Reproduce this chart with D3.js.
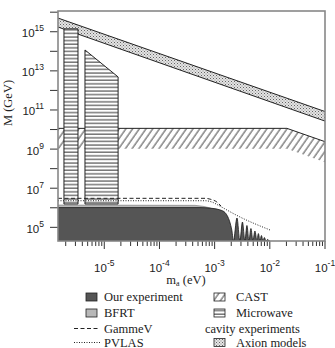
<!DOCTYPE html>
<html>
<head>
<meta charset="utf-8">
<script src="https://cdn.jsdelivr.net/npm/d3@7"></script>
<style>
  body { margin: 0; background: #fff; }
  svg { display: block; }
</style>
</head>
<body>
<svg id="chart" width="335" height="348"></svg>
<script>
// values, pairs of [m_a (eV), M (GeV)]
const ourExperiment = [
  [1.45e-6, 1.02e6], [5.42e-4, 1.02e6], [8.93e-4, 9.35e5], [1.24e-3, 7.85e5],
  [1.54e-3, 5.71e5], [1.74e-3, 3.37e5], [1.93e-3, 1.47e5], [2.06e-3, 6.5e4],
  [2.19e-3, 2.0e4], [2.54e-3, 2.99e5], [2.87e-3, 2.0e4], [3.19e-3, 1.87e5],
  [3.54e-3, 2.0e4], [3.85e-3, 1.24e5], [4.18e-3, 2.0e4], [4.55e-3, 8.7e4],
  [4.94e-3, 2.0e4], [5.37e-3, 6.5e4], [5.84e-3, 2.0e4], [6.21e-3, 4.8e4],
  [6.62e-3, 2.0e4], [7.05e-3, 3.8e4], [7.50e-3, 2.0e4], [7.98e-3, 3.0e4],
  [8.50e-3, 2.0e4], [9.05e-3, 2.38e4], [9.85e-3, 2.0e4]
];
const bfrt = [
  [1.45e-6, 1.38e6], [4.4e-4, 1.33e6], [6.14e-4, 1.19e6], [8.2e-4, 9.9e5], [9.7e-4, 8.1e5]
];
const gammeV = [
  [1.45e-6, 3.04e6], [6.73e-4, 3.04e6], [8.57e-4, 2.69e6], [1.10e-3, 1.96e6], [1.30e-3, 1.23e6]
];
const pvlas = [
  [1.45e-6, 2.29e6], [6.73e-4, 2.29e6], [8.93e-4, 1.96e6], [1.15e-3, 1.38e6],
  [1.61e-3, 8.13e5], [2.45e-3, 4.26e5], [1.01e-2, 7.3e4]
];
const castTop = [[1.45e-6, 1.15e10], [2.04e-2, 1.15e10], [0.1, 2.4e9]];
const castBottom = [[0.1, 2.14e8], [2.04e-2, 1.03e9], [1.45e-6, 1.03e9]];
const cavityBar1 = [[1.86e-6, 1.55e6], [1.86e-6, 1.4e15], [3.34e-6, 1.4e15], [3.34e-6, 1.55e6]];
const cavityBar2 = [[4.47e-6, 1.55e6], [4.47e-6, 1.17e14], [1.78e-5, 4.9e12], [1.78e-5, 1.55e6]];
const axionUpper = [[1.45e-6, 5.0e15], [0.1, 8.3e10]];
const axionLower = [[0.1, 2.7e10], [1.45e-6, 1.74e15]];

const xMajor = [-5, -4, -3, -2, -1];
const yMajor = [5, 7, 9, 11, 13, 15];
const yMinor = [6, 8, 10, 12, 14, 16];

const svg = d3.select("#chart");
const pLeft = 58, pRight = 325, pTop = 11, pBottom = 241;

const x = d3.scaleLog().domain([1.45e-6, 0.1]).range([pLeft, pRight]);
const y = d3.scaleLog().domain([2e4, 1.15e16]).range([pBottom, pTop]);

const defs = svg.append("defs");
defs.append("clipPath").attr("id", "plot")
  .append("rect").attr("x", pLeft).attr("y", pTop).attr("width", pRight - pLeft).attr("height", pBottom - pTop);

// CAST hatch
defs.append("pattern").attr("id", "hatch").attr("patternUnits", "userSpaceOnUse")
    .attr("width", 5.5).attr("height", 5.5).attr("patternTransform", "rotate(35)")
  .append("line").attr("x1", 1).attr("y1", 0).attr("x2", 1).attr("y2", 5.5)
    .attr("stroke", "#333").attr("stroke-width", 0.9);

// cavity horizontal lines
const hl = defs.append("pattern").attr("id", "hlines").attr("patternUnits", "userSpaceOnUse")
    .attr("width", 4).attr("height", 3.6);
hl.append("rect").attr("width", 4).attr("height", 3.6).attr("fill", "#fff");
hl.append("line").attr("x1", 0).attr("y1", 1).attr("x2", 4).attr("y2", 1)
    .attr("stroke", "#333").attr("stroke-width", 1);

// axion models stipple
const st = defs.append("pattern").attr("id", "stipple").attr("patternUnits", "userSpaceOnUse")
    .attr("width", 3).attr("height", 3);
st.append("rect").attr("width", 3).attr("height", 3).attr("fill", "#e4e4e4");
st.append("rect").attr("x", 0).attr("y", 0).attr("width", 1).attr("height", 1).attr("fill", "#666");
st.append("rect").attr("x", 1.5).attr("y", 1.5).attr("width", 1).attr("height", 1).attr("fill", "#888");

const line = d3.line().x(d => x(d[0])).y(d => y(d[1]));
const g = svg.append("g").attr("clip-path", "url(#plot)");

// CAST
g.append("path").attr("d", line(castTop.concat(castBottom)) + "Z")
  .attr("fill", "url(#hatch)");
g.append("path").attr("d", line(castTop)).attr("fill", "none")
  .attr("stroke", "#222").attr("stroke-width", 1);

// axion models band
g.append("path").attr("d", line(axionUpper.concat(axionLower)) + "Z")
  .attr("fill", "url(#stipple)");
g.append("path").attr("d", line(axionUpper)).attr("fill", "none").attr("stroke", "#222").attr("stroke-width", 1);
g.append("path").attr("d", line(axionLower)).attr("fill", "none").attr("stroke", "#222").attr("stroke-width", 1);

// microwave cavity
[cavityBar1, cavityBar2].forEach(b => {
  g.append("path").attr("d", line(b) + "Z")
    .attr("fill", "url(#hlines)").attr("stroke", "#222").attr("stroke-width", 1);
});

// BFRT
const area = d3.area().x(d => x(d[0])).y0(y(2e4)).y1(d => y(d[1]));
g.append("path").attr("d", area(bfrt))
  .attr("fill", "#b8b8b8").attr("stroke", "#777").attr("stroke-width", 0.6);

// our experiment
g.append("path").attr("d", area.curve(d3.curveMonotoneX)(ourExperiment))
  .attr("fill", "#555").attr("stroke", "#1a1a1a").attr("stroke-width", 0.8);

// GammeV and PVLAS
g.append("path").attr("d", line.curve(d3.curveMonotoneX)(gammeV)).attr("fill", "none")
  .attr("stroke", "#222").attr("stroke-width", 1).attr("stroke-dasharray", "4,2.5");
g.append("path").attr("d", line(pvlas)).attr("fill", "none")
  .attr("stroke", "#222").attr("stroke-width", 1).attr("stroke-dasharray", "1,1.5");

// axes
const tickColor = "#333";
const xTicks = [];
for (let e = -6; e <= -2; e++) for (let k = 1; k <= 9; k++) {
  const v = k * Math.pow(10, e);
  if (v >= x.domain()[0] && v <= 0.1) xTicks.push({ v, major: k === 1 });
}
xTicks.push({ v: 0.1, major: true });
svg.append("g").selectAll("line").data(xTicks).join("line")
  .attr("x1", d => x(d.v)).attr("x2", d => x(d.v))
  .attr("y1", pBottom).attr("y2", d => pBottom + (d.major ? 8 : 5))
  .attr("stroke", tickColor).attr("stroke-width", 1);

const yTicks = yMajor.concat(yMinor);
svg.append("g").selectAll("line").data(yTicks).join("line")
  .attr("x1", pLeft - 8).attr("x2", pLeft)
  .attr("y1", d => y(Math.pow(10, d))).attr("y2", d => y(Math.pow(10, d)))
  .attr("stroke", tickColor).attr("stroke-width", 1);

const sans = "'Liberation Sans', Arial, sans-serif";
const serif = "'Liberation Serif', 'Times New Roman', serif";

xMajor.forEach(e => {
  const t = svg.append("text").attr("x", x(Math.pow(10, e))).attr("y", 272)
    .attr("text-anchor", "middle").attr("font-family", sans).attr("font-size", 11.5).attr("fill", "#222");
  t.append("tspan").text("10");
  t.append("tspan").attr("dy", -6).attr("font-size", 8.5).text("-" + (-e));
});
yMajor.forEach(e => {
  const t = svg.append("text").attr("x", 44).attr("y", y(Math.pow(10, e)) + 5.5)
    .attr("text-anchor", "end").attr("font-family", sans).attr("font-size", 11.5).attr("fill", "#222");
  t.append("tspan").text("10");
  t.append("tspan").attr("dy", -6).attr("font-size", 8.5).text(e);
});

// axis titles
const xt = svg.append("text").attr("x", 186).attr("y", 284).attr("text-anchor", "middle")
  .attr("font-family", serif).attr("font-size", 12.5).attr("fill", "#222");
xt.append("tspan").text("m");
xt.append("tspan").attr("dy", 2).attr("font-size", 8).text("a");
xt.append("tspan").attr("dy", -2).text(" (eV)");

svg.append("text").attr("transform", "translate(12,103) rotate(-90)").attr("text-anchor", "middle")
  .attr("font-family", serif).attr("font-size", 12.5).attr("fill", "#222").text("M (GeV)");

// frame
svg.append("rect").attr("x", pLeft).attr("y", pTop).attr("width", pRight - pLeft).attr("height", pBottom - pTop)
  .attr("fill", "none").attr("stroke", "#888").attr("stroke-width", 1.6);

// legend
const leg = svg.append("g").attr("font-family", serif).attr("font-size", 12.5).attr("fill", "#222");
function swatch(xp, yc, fill) {
  leg.append("rect").attr("x", xp).attr("y", yc - 4).attr("width", 11).attr("height", 8)
    .attr("fill", fill).attr("stroke", "#222").attr("stroke-width", 0.8);
}
function label(xp, yc, s) {
  leg.append("text").attr("x", xp).attr("y", yc + 4).text(s);
}
swatch(86, 297, "#555"); label(104, 297, "Our experiment");
swatch(86, 313, "#b8b8b8"); label(104, 313, "BFRT");
leg.append("line").attr("x1", 74).attr("x2", 100).attr("y1", 328.5).attr("y2", 328.5)
  .attr("stroke", "#222").attr("stroke-dasharray", "4,2.5");
label(104, 328.5, "GammeV");
leg.append("line").attr("x1", 74).attr("x2", 100).attr("y1", 342.5).attr("y2", 342.5)
  .attr("stroke", "#222").attr("stroke-dasharray", "1,1.5");
label(104, 342.5, "PVLAS");
swatch(214, 297, "url(#hatch)"); label(236, 297, "CAST");
swatch(214, 313, "url(#hlines)"); label(236, 313, "Microwave");
label(205, 328.5, "cavity experiments");
swatch(214, 342.5, "url(#stipple)"); label(236, 342.5, "Axion models");
</script>
</body>
</html>
